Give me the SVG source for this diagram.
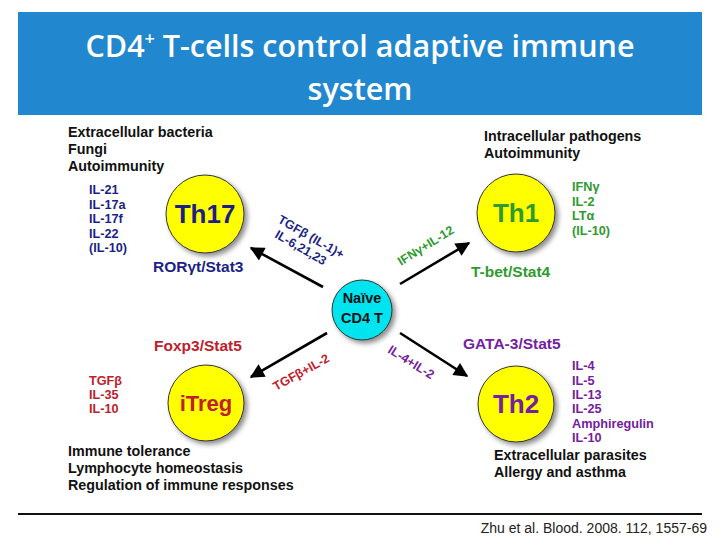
<svg xmlns="http://www.w3.org/2000/svg" width="720" height="540" viewBox="0 0 720 540">
<defs>
<style>
.t{font-family:"Liberation Sans",Arial,sans-serif;font-weight:bold}
.blk{fill:#111;font-size:14.3px}
.lst{font-size:12.7px}
.tf{font-size:15.5px}
.nv{fill:#1c1f86}
.gr{fill:#2f9a2f}
.rd{fill:#c0202c}
.pu{fill:#7420a0}
.cell{fill:#ffff00;stroke:#333;stroke-width:1;filter:url(#sh)}
.big{font-size:26px;text-anchor:middle}
.al{font-size:12.5px}
.ttl{fill:#fff;font-family:"Open Sans","Noto Sans",sans-serif;font-size:30.5px;font-weight:600;text-anchor:middle}
.conn line{stroke:#000;stroke-width:2.6;marker-end:url(#ah)}
</style>
<filter id="sh" x="-30%" y="-30%" width="170%" height="170%">
<feDropShadow dx="3" dy="3" stdDeviation="2.5" flood-color="#000" flood-opacity="0.45"/>
</filter>
<marker id="ah" viewBox="0 0 10 10" refX="9" refY="5" markerWidth="7.5" markerHeight="5.5" orient="auto" markerUnits="strokeWidth">
<path d="M0,0 L10,5 L0,10 Z" fill="#000"/>
</marker>
</defs>
<rect width="720" height="540" fill="#fff"/>
<g id="title">
<rect x="18" y="12" width="684" height="103" fill="#2188cf"/>
<text class="ttl" x="360" y="57">CD4<tspan font-size="18" dy="-12">+</tspan><tspan dy="12"> T-cells control adaptive immune</tspan></text>
<text class="ttl" x="360" y="100">system</text>
</g>
<g class="conn" id="connectors">
<line x1="323" y1="287" x2="251" y2="248"/>
<line x1="400" y1="284" x2="469" y2="243"/>
<line x1="327" y1="333" x2="251" y2="377"/>
<line x1="400" y1="333" x2="467" y2="376"/>
</g>
<g id="arrow-labels" class="t al">
<text class="nv" transform="translate(277,222) rotate(30)">TGFβ (IL-1)+</text>
<text class="nv" transform="translate(274,237) rotate(30)">IL-6,21,23</text>
<text class="gr" transform="translate(401,266) rotate(-32)">IFNγ+IL-12</text>
<text class="rd" transform="translate(276,391) rotate(-29)">TGFβ+IL-2</text>
<text class="pu" transform="translate(387,352) rotate(32)">IL-4+IL-2</text>
</g>
<g id="naive">
<circle cx="362" cy="310" r="30" fill="#00e4ef" stroke="#333" stroke-width="1" filter="url(#sh)"/>
<text class="t" x="362" y="303" font-size="14.5" fill="#111" text-anchor="middle">Naïve</text>
<text class="t" x="362" y="323" font-size="14.5" fill="#111" text-anchor="middle">CD4 T</text>
</g>
<g id="th17">
<circle class="cell" cx="205" cy="214" r="39"/>
<text class="t big nv" x="205" y="223">Th17</text>
<text class="t tf nv" x="153" y="272">RORγt/Stat3</text>
<g class="t lst nv">
<text x="89" y="194">IL-21</text>
<text x="89" y="209">IL-17a</text>
<text x="89" y="223">IL-17f</text>
<text x="89" y="238">IL-22</text>
<text x="89" y="252">(IL-10)</text>
</g>
<g class="t blk">
<text x="68" y="137">Extracellular bacteria</text>
<text x="68" y="154">Fungi</text>
<text x="68" y="171">Autoimmunity</text>
</g>
</g>
<g id="th1">
<circle class="cell" cx="516" cy="213" r="39"/>
<text class="t big gr" x="516" y="222">Th1</text>
<text class="t tf gr" x="471" y="277">T-bet/Stat4</text>
<g class="t lst gr">
<text x="572" y="191">IFNγ</text>
<text x="572" y="206">IL-2</text>
<text x="572" y="220">LTα</text>
<text x="572" y="235">(IL-10)</text>
</g>
<g class="t blk">
<text x="484" y="141">Intracellular pathogens</text>
<text x="484" y="158">Autoimmunity</text>
</g>
</g>
<g id="itreg">
<circle class="cell" cx="206" cy="403" r="38"/>
<text class="t rd" x="206" y="411" font-size="22" text-anchor="middle">iTreg</text>
<text class="t tf rd" x="154" y="351">Foxp3/Stat5</text>
<g class="t lst rd">
<text x="89" y="385">TGFβ</text>
<text x="89" y="399">IL-35</text>
<text x="89" y="413">IL-10</text>
</g>
<g class="t blk">
<text x="68" y="456">Immune tolerance</text>
<text x="68" y="473">Lymphocyte homeostasis</text>
<text x="68" y="490">Regulation of immune responses</text>
</g>
</g>
<g id="th2">
<circle class="cell" cx="516" cy="404" r="38"/>
<text class="t big pu" x="516" y="413">Th2</text>
<text class="t tf pu" x="463" y="349">GATA-3/Stat5</text>
<g class="t lst pu">
<text x="572" y="370">IL-4</text>
<text x="572" y="385">IL-5</text>
<text x="572" y="399">IL-13</text>
<text x="572" y="413">IL-25</text>
<text x="572" y="428">Amphiregulin</text>
<text x="572" y="442">IL-10</text>
</g>
<g class="t blk">
<text x="494" y="460">Extracellular parasites</text>
<text x="494" y="477">Allergy and asthma</text>
</g>
</g>
<g id="footer">
<line x1="18" y1="514" x2="702" y2="514" stroke="#111" stroke-width="2"/>
<text x="707" y="533" fill="#222" font-family="'Liberation Sans',Arial,sans-serif" font-size="14" text-anchor="end">Zhu et al. Blood. 2008. 112, 1557-69</text>
</g>
</svg>
